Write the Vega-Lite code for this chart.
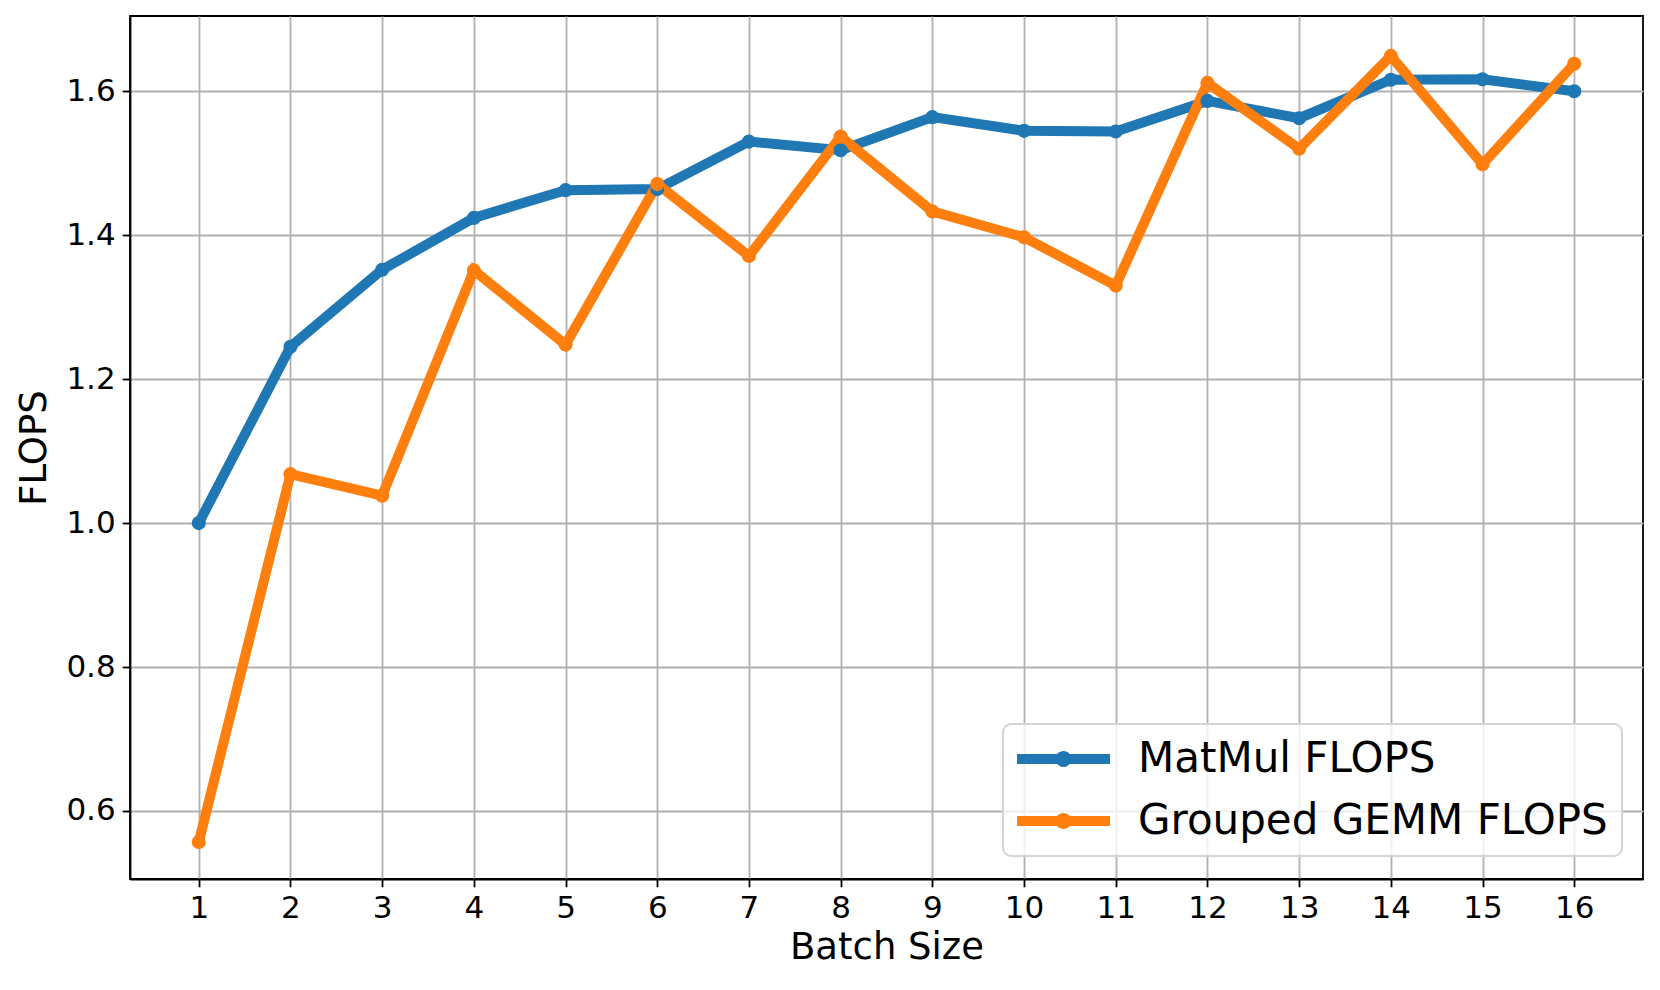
{
  "$schema": "https://vega.github.io/schema/vega-lite/v6.json",
  "width": 1513,
  "height": 863,
  "autosize": {"type": "none"},
  "padding": {"left": 130, "top": 16, "right": 17, "bottom": 111},
  "background": "white",
  "data": {
    "values": [
      {"batch": 1, "series": "MatMul FLOPS", "flops": 1.0},
      {"batch": 2, "series": "MatMul FLOPS", "flops": 1.245},
      {"batch": 3, "series": "MatMul FLOPS", "flops": 1.352},
      {"batch": 4, "series": "MatMul FLOPS", "flops": 1.424},
      {"batch": 5, "series": "MatMul FLOPS", "flops": 1.4625},
      {"batch": 6, "series": "MatMul FLOPS", "flops": 1.464},
      {"batch": 7, "series": "MatMul FLOPS", "flops": 1.53},
      {"batch": 8, "series": "MatMul FLOPS", "flops": 1.518},
      {"batch": 9, "series": "MatMul FLOPS", "flops": 1.564},
      {"batch": 10, "series": "MatMul FLOPS", "flops": 1.545},
      {"batch": 11, "series": "MatMul FLOPS", "flops": 1.544},
      {"batch": 12, "series": "MatMul FLOPS", "flops": 1.5865},
      {"batch": 13, "series": "MatMul FLOPS", "flops": 1.5625},
      {"batch": 14, "series": "MatMul FLOPS", "flops": 1.616},
      {"batch": 15, "series": "MatMul FLOPS", "flops": 1.6165},
      {"batch": 16, "series": "MatMul FLOPS", "flops": 1.6},
      {"batch": 1, "series": "Grouped GEMM FLOPS", "flops": 0.557},
      {"batch": 2, "series": "Grouped GEMM FLOPS", "flops": 1.068},
      {"batch": 3, "series": "Grouped GEMM FLOPS", "flops": 1.038},
      {"batch": 4, "series": "Grouped GEMM FLOPS", "flops": 1.351},
      {"batch": 5, "series": "Grouped GEMM FLOPS", "flops": 1.248},
      {"batch": 6, "series": "Grouped GEMM FLOPS", "flops": 1.471},
      {"batch": 7, "series": "Grouped GEMM FLOPS", "flops": 1.371},
      {"batch": 8, "series": "Grouped GEMM FLOPS", "flops": 1.537},
      {"batch": 9, "series": "Grouped GEMM FLOPS", "flops": 1.433},
      {"batch": 10, "series": "Grouped GEMM FLOPS", "flops": 1.397},
      {"batch": 11, "series": "Grouped GEMM FLOPS", "flops": 1.33},
      {"batch": 12, "series": "Grouped GEMM FLOPS", "flops": 1.6115},
      {"batch": 13, "series": "Grouped GEMM FLOPS", "flops": 1.52},
      {"batch": 14, "series": "Grouped GEMM FLOPS", "flops": 1.649},
      {"batch": 15, "series": "Grouped GEMM FLOPS", "flops": 1.4985},
      {"batch": 16, "series": "Grouped GEMM FLOPS", "flops": 1.638}
    ]
  },
  "encoding": {
    "x": {
      "field": "batch",
      "type": "quantitative",
      "scale": {"domain": [0.25, 16.75], "nice": false, "zero": false},
      "axis": {
        "title": "Batch Size",
        "values": [1, 2, 3, 4, 5, 6, 7, 8, 9, 10, 11, 12, 13, 14, 15, 16],
        "format": "d",
        "titlePadding": 6
      }
    },
    "y": {
      "field": "flops",
      "type": "quantitative",
      "scale": {"domain": [0.5055, 1.7045], "nice": false, "zero": false},
      "axis": {
        "title": "FLOPS",
        "values": [0.6, 0.8, 1.0, 1.2, 1.4, 1.6],
        "format": ".1f",
        "titlePadding": 12
      }
    },
    "color": {
      "field": "series",
      "type": "nominal",
      "scale": {
        "domain": ["MatMul FLOPS", "Grouped GEMM FLOPS"],
        "range": ["#1f77b4", "#ff7f0e"]
      },
      "legend": {
        "title": null,
        "orient": "none",
        "legendX": 873,
        "legendY": 708,
        "symbolType": "M-1,-0.238 L3.4286,-0.238 L3.4286,0.238 L-1,0.238 Z M1.5953,0 A0.381,0.381 0 1 1 0.8333,0 A0.381,0.381 0 1 1 1.5953,0 Z",
        "symbolSize": 1764,
        "symbolStrokeWidth": 0,
        "symbolOpacity": 1,
        "labelFontSize": 42,
        "labelFont": "DejaVu Sans",
        "labelColor": "black",
        "labelOffset": 79,
        "labelLimit": 1000,
        "rowPadding": 20,
        "padding": 14,
        "fillColor": "rgba(255,255,255,0.8)",
        "strokeColor": "#d4d4d4",
        "cornerRadius": 8
      }
    }
  },
  "layer": [
    {"mark": {"type": "line", "strokeWidth": 10}},
    {"mark": {"type": "point", "filled": true, "size": 200, "opacity": 1}}
  ],
  "config": {
    "font": "DejaVu Sans",
    "view": {"stroke": "black", "strokeWidth": 1.8},
    "legend": {"strokeWidth": 2},
    "axis": {
      "grid": true,
      "gridColor": "#b0b0b0",
      "gridWidth": 1.8,
      "gridOpacity": 1,
      "domainColor": "black",
      "domainWidth": 1.8,
      "tickColor": "black",
      "tickWidth": 1.8,
      "tickSize": 7.8,
      "labelFont": "DejaVu Sans",
      "labelFontSize": 31,
      "labelColor": "black",
      "labelPadding": 7,
      "labelFlush": false,
      "labelOverlap": false,
      "titleFont": "DejaVu Sans",
      "titleFontSize": 37,
      "titleFontWeight": "normal",
      "titleColor": "black"
    }
  }
}
